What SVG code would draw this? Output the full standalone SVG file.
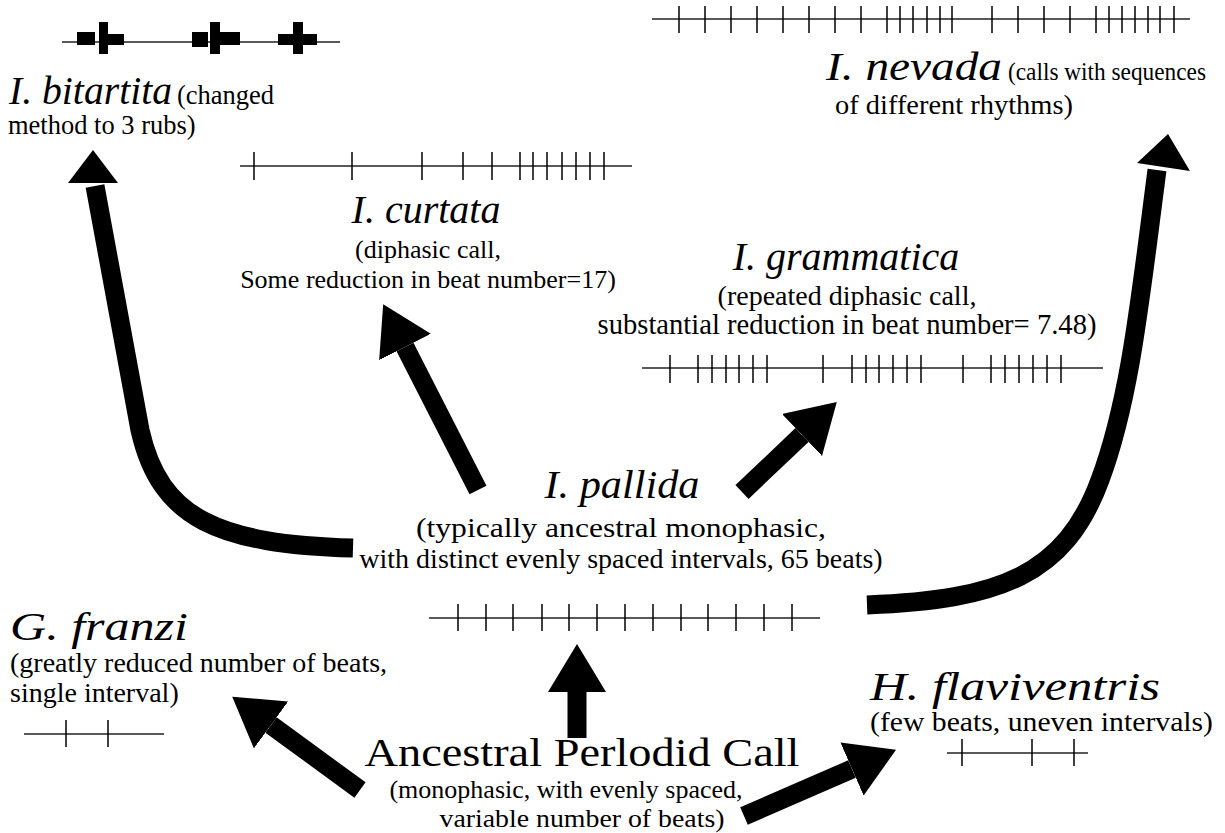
<svg xmlns="http://www.w3.org/2000/svg" width="1225" height="833" viewBox="0 0 1225 833">
<style>
text{font-family:"Liberation Serif","Times New Roman",serif;fill:#000}
.sp{font-style:italic;font-size:40px}
.d{font-size:28px}
.m{text-anchor:middle}
.osc line{stroke:#000;stroke-width:1.5}
.osc .base{stroke:#222;stroke-width:1.6}
.arr{fill:none;stroke:#000;stroke-width:19}
.ah{fill:#000}
</style>
<defs>
<marker id="head" markerUnits="userSpaceOnUse" markerWidth="48" markerHeight="58" viewBox="0 0 48 58" refX="0" refY="29" orient="auto">
<path d="M0,0 L48,29 L0,58 z" fill="#000"/>
</marker>
</defs>
<rect width="1225" height="833" fill="#fff"/>

<g id="connectors">
<path class="arr" d="M353,548 C220,544 160,520 140,430 L95,186"/>
<polygon class="ah" points="93,150 68,183 118,183"/>
<path class="arr" d="M867,605 C1000,600 1065,575 1100,480 C1130,400 1140,300 1157,170"/>
<polygon class="ah" points="1168,134 1137,163 1190,171"/>
<line class="arr" x1="478" y1="490" x2="405" y2="347" marker-end="url(#head)"/>
<line class="arr" x1="742" y1="492" x2="802" y2="435" marker-end="url(#head)"/>
<line class="arr" x1="577" y1="738" x2="577" y2="692" marker-end="url(#head)"/>
<line class="arr" x1="360" y1="790" x2="271" y2="725" marker-end="url(#head)"/>
<line class="arr" x1="744" y1="816" x2="852" y2="769" marker-end="url(#head)"/>
</g>

<g id="bitartita">
<g class="osc">
<line class="base" x1="62" y1="42" x2="340" y2="42"/>
<rect x="77" y="32" width="18" height="13"/><rect x="99" y="22" width="9" height="32"/><rect x="108" y="34" width="16" height="11"/>
<rect x="192" y="32" width="16" height="15"/><rect x="210" y="22" width="10" height="32"/><rect x="220" y="32" width="20" height="13"/>
<rect x="278" y="34" width="15" height="11"/><rect x="293" y="22" width="10" height="32"/><rect x="303" y="34" width="14" height="11"/>
</g>
<text class="sp" x="9" y="104" textLength="163" lengthAdjust="spacingAndGlyphs">I. bitartita</text>
<text x="177" y="104" font-size="26.5">(changed</text>
<text x="8" y="134" font-size="26.5">method to 3 rubs)</text>
</g>

<g id="nevada">
<g class="osc">
<line class="base" x1="652" y1="19" x2="1190" y2="19"/>
<line x1="679" y1="6" x2="679" y2="33"/><line x1="705" y1="6" x2="705" y2="33"/><line x1="731" y1="6" x2="731" y2="33"/><line x1="757" y1="6" x2="757" y2="33"/><line x1="783" y1="6" x2="783" y2="33"/><line x1="809" y1="6" x2="809" y2="33"/><line x1="835" y1="6" x2="835" y2="33"/><line x1="861" y1="6" x2="861" y2="33"/><line x1="887" y1="6" x2="887" y2="33"/><line x1="900" y1="6" x2="900" y2="33"/><line x1="913" y1="6" x2="913" y2="33"/><line x1="927" y1="6" x2="927" y2="33"/><line x1="940" y1="6" x2="940" y2="33"/><line x1="952" y1="6" x2="952" y2="33"/><line x1="992" y1="6" x2="992" y2="33"/><line x1="1018" y1="6" x2="1018" y2="33"/><line x1="1044" y1="6" x2="1044" y2="33"/><line x1="1070" y1="6" x2="1070" y2="33"/><line x1="1096" y1="6" x2="1096" y2="33"/><line x1="1109" y1="6" x2="1109" y2="33"/><line x1="1122" y1="6" x2="1122" y2="33"/><line x1="1135" y1="6" x2="1135" y2="33"/><line x1="1148" y1="6" x2="1148" y2="33"/><line x1="1160" y1="6" x2="1160" y2="33"/><line x1="1174" y1="6" x2="1174" y2="33"/>
</g>
<text class="sp" x="826" y="80" textLength="176" lengthAdjust="spacingAndGlyphs">I. nevada</text>
<text x="1008" y="80" font-size="25" textLength="198" lengthAdjust="spacingAndGlyphs">(calls with sequences</text>
<text class="d" x="835" y="114" textLength="238" lengthAdjust="spacingAndGlyphs">of different rhythms)</text>
</g>

<g id="curtata">
<g class="osc">
<line class="base" x1="240" y1="166" x2="632" y2="166"/>
<line x1="254" y1="152" x2="254" y2="180"/><line x1="352" y1="152" x2="352" y2="180"/><line x1="422" y1="152" x2="422" y2="180"/><line x1="463" y1="152" x2="463" y2="180"/><line x1="492" y1="152" x2="492" y2="180"/><line x1="520" y1="152" x2="520" y2="180"/><line x1="533" y1="152" x2="533" y2="180"/><line x1="547" y1="152" x2="547" y2="180"/><line x1="562" y1="152" x2="562" y2="180"/><line x1="576" y1="152" x2="576" y2="180"/><line x1="590" y1="152" x2="590" y2="180"/><line x1="604" y1="152" x2="604" y2="180"/>
</g>
<text class="sp m" x="426" y="223">I. curtata</text>
<text class="m" x="428" y="258" font-size="26">(diphasic call,</text>
<text class="m" x="428" y="288" font-size="26">Some reduction in beat number=17)</text>
</g>

<g id="grammatica">
<g class="osc">
<line class="base" x1="642" y1="368" x2="1103" y2="368"/>
<line x1="670" y1="355" x2="670" y2="383"/><line x1="698" y1="355" x2="698" y2="383"/><line x1="712" y1="355" x2="712" y2="383"/><line x1="726" y1="355" x2="726" y2="383"/><line x1="739" y1="355" x2="739" y2="383"/><line x1="753" y1="355" x2="753" y2="383"/><line x1="767" y1="355" x2="767" y2="383"/><line x1="823" y1="355" x2="823" y2="383"/><line x1="852" y1="355" x2="852" y2="383"/><line x1="866" y1="355" x2="866" y2="383"/><line x1="879" y1="355" x2="879" y2="383"/><line x1="893" y1="355" x2="893" y2="383"/><line x1="907" y1="355" x2="907" y2="383"/><line x1="921" y1="355" x2="921" y2="383"/><line x1="963" y1="355" x2="963" y2="383"/><line x1="991" y1="355" x2="991" y2="383"/><line x1="1005" y1="355" x2="1005" y2="383"/><line x1="1019" y1="355" x2="1019" y2="383"/><line x1="1033" y1="355" x2="1033" y2="383"/><line x1="1047" y1="355" x2="1047" y2="383"/><line x1="1061" y1="355" x2="1061" y2="383"/>
</g>
<text class="sp m" x="846" y="270">I. grammatica</text>
<text class="d m" x="847" y="305">(repeated diphasic call,</text>
<text class="m" x="847" y="334" font-size="28.6">substantial reduction in beat number= 7.48)</text>
</g>

<g id="pallida">
<g class="osc">
<line class="base" x1="429" y1="618" x2="820" y2="618"/>
<line x1="458" y1="604" x2="458" y2="631"/><line x1="486" y1="604" x2="486" y2="631"/><line x1="513" y1="604" x2="513" y2="631"/><line x1="542" y1="604" x2="542" y2="631"/><line x1="569" y1="604" x2="569" y2="631"/><line x1="597" y1="604" x2="597" y2="631"/><line x1="625" y1="604" x2="625" y2="631"/><line x1="653" y1="604" x2="653" y2="631"/><line x1="681" y1="604" x2="681" y2="631"/><line x1="708" y1="604" x2="708" y2="631"/><line x1="736" y1="604" x2="736" y2="631"/><line x1="764" y1="604" x2="764" y2="631"/><line x1="792" y1="604" x2="792" y2="631"/>
</g>
<text class="sp m" x="622" y="498" textLength="155" lengthAdjust="spacingAndGlyphs">I. pallida</text>
<text class="d m" x="621" y="537" textLength="410" lengthAdjust="spacingAndGlyphs">(typically ancestral monophasic,</text>
<text class="d m" x="621" y="568">with distinct evenly spaced intervals, 65 beats)</text>
</g>

<g id="franzi">
<g class="osc">
<line class="base" x1="24" y1="734" x2="164" y2="734"/>
<line x1="66" y1="720" x2="66" y2="747"/><line x1="108" y1="720" x2="108" y2="747"/>
</g>
<text class="sp" x="10" y="640" textLength="178" lengthAdjust="spacingAndGlyphs">G. franzi</text>
<text class="d" x="10" y="672">(greatly reduced number of beats,</text>
<text class="d" x="10" y="702">single interval)</text>
</g>

<g id="flaviventris">
<g class="osc">
<line class="base" x1="947" y1="753" x2="1088" y2="753"/>
<line x1="962" y1="739" x2="962" y2="766"/><line x1="1032" y1="739" x2="1032" y2="766"/><line x1="1074" y1="739" x2="1074" y2="766"/>
</g>
<text class="sp" x="870" y="700" textLength="290" lengthAdjust="spacingAndGlyphs">H. flaviventris</text>
<text class="d" x="870" y="731" textLength="343" lengthAdjust="spacingAndGlyphs">(few beats, uneven intervals)</text>
</g>

<g id="ancestral">
<text class="m" x="582" y="766" font-size="40" textLength="435" lengthAdjust="spacingAndGlyphs">Ancestral Perlodid Call</text>
<text class="m" x="566" y="798" font-size="26">(monophasic, with evenly spaced,</text>
<text class="m" x="582" y="827" font-size="26" textLength="285" lengthAdjust="spacingAndGlyphs">variable number of beats)</text>
</g>
</svg>
